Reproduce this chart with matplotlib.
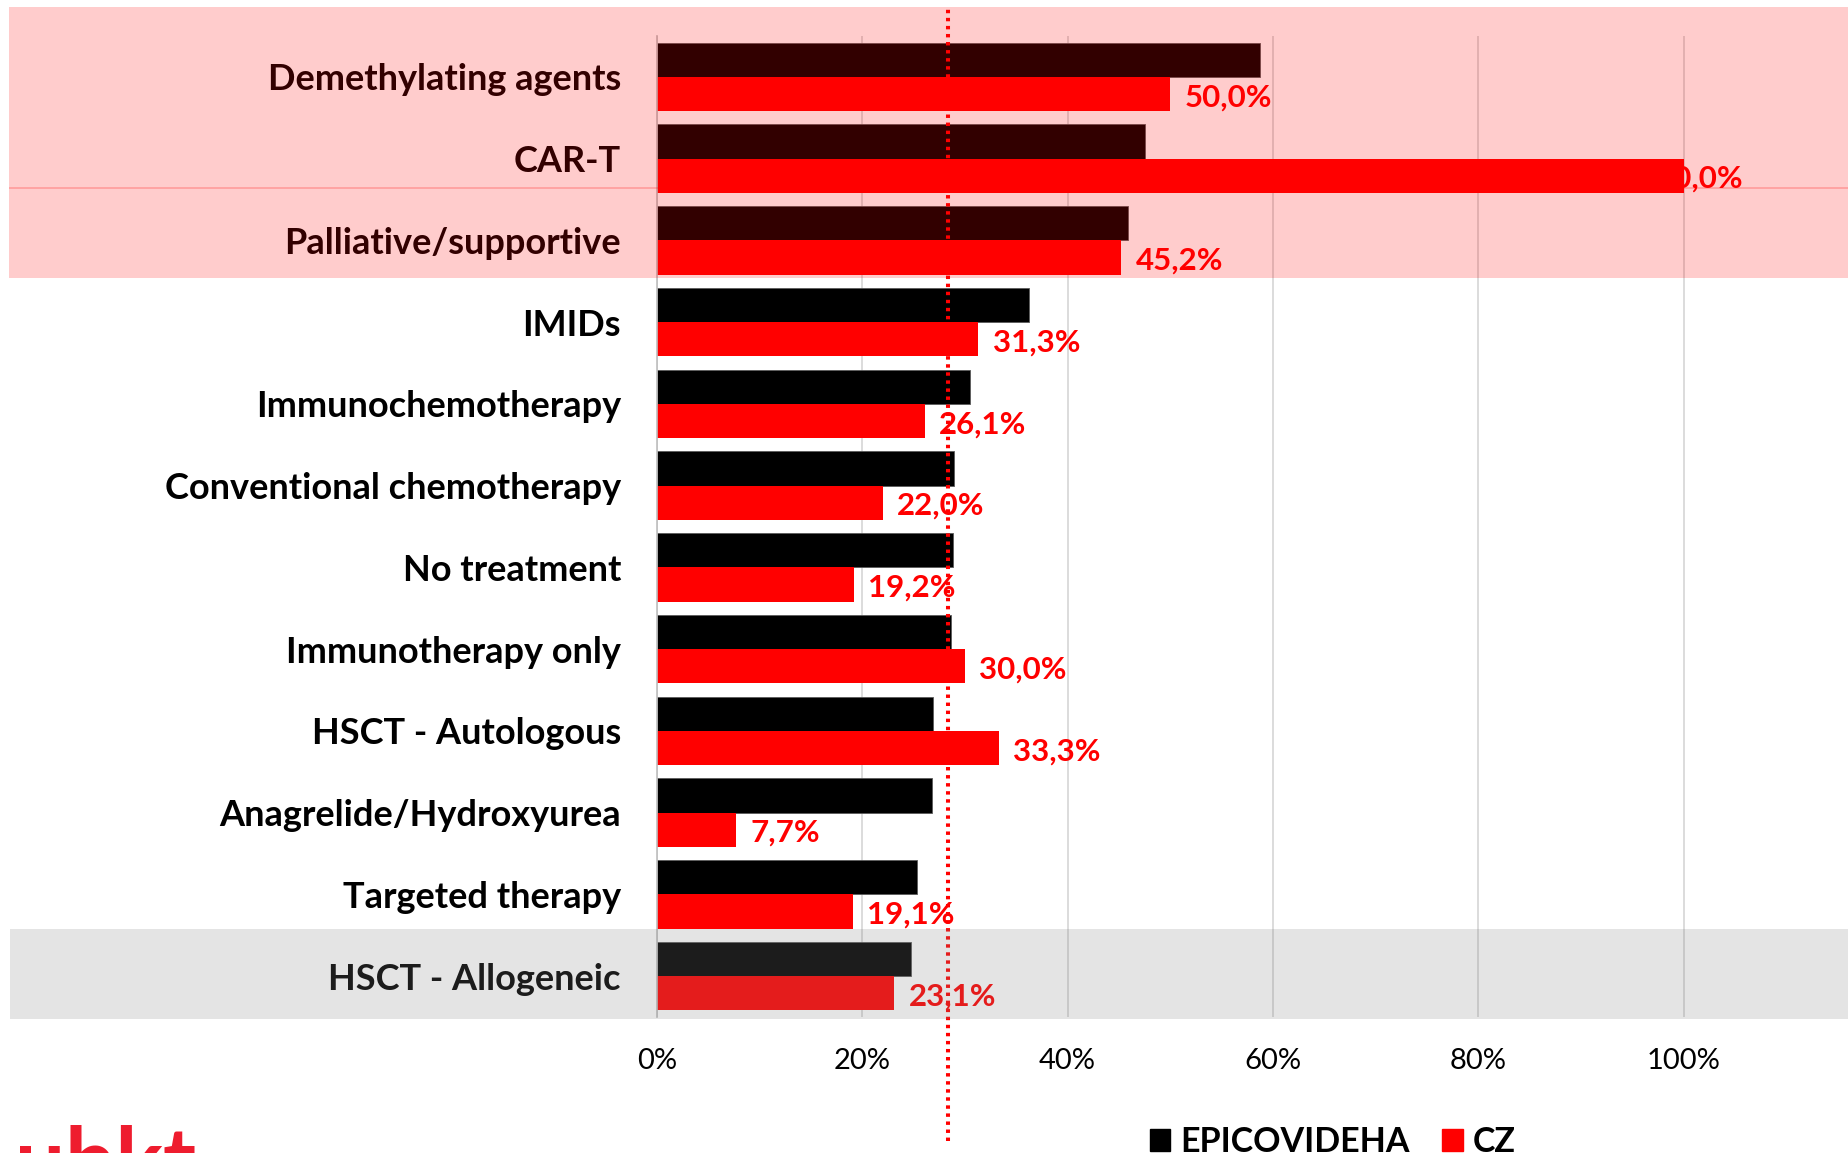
import numpy as np
import matplotlib
matplotlib.use("Agg")
import matplotlib.pyplot as plt
from matplotlib.patches import Rectangle, Patch

# Data (in %)
categories = ["Demethylating agents", "CAR-T", "Palliative/supportive", "IMIDs",
              "Immunochemotherapy", "Conventional chemotherapy", "No treatment",
              "Immunotherapy only", "HSCT - Autologous", "Anagrelide/Hydroxyurea",
              "Targeted therapy", "HSCT - Allogeneic"]
epicovideha = [58.7, 47.5, 45.9, 36.2, 30.5, 28.9, 28.8, 28.6, 26.9, 26.8, 25.3, 24.7]
cz = [50.0, 100.0, 45.2, 31.3, 26.1, 22.0, 19.2, 30.0, 33.3, 7.7, 19.1, 23.1]
xticks = [0, 20, 40, 60, 80, 100]
ref_line = 28.3   # dotted reference line
series_names = ["EPICOVIDEHA", "CZ"]

RED = "#FF0000"
W, H = 1849, 1153

plt.rcParams['font.family'] = ['Lato', 'DejaVu Sans']

fig = plt.figure(figsize=(W/100, H/100), dpi=100)
fig.patch.set_facecolor("white")

# plot area (runs past the right edge like the cropped original)
ax = fig.add_axes([657/W, 136/H, 1232/W, 981/H])

y = np.arange(len(categories))
bh = 0.42
ax.barh(y - bh/2, epicovideha, height=bh, color="black", edgecolor="#5a5a5a", linewidth=0.6, zorder=2)
ax.barh(y + bh/2, cz, height=bh, color=RED, zorder=2)

# value labels for CZ
for yi, v in zip(y, cz):
    if v > 95:
        # Excel pushes the label back inside the plot area
        ax.text(105.7, yi + bh/2 + 0.04, f"{v:.1f}%".replace(".", ","), color=RED,
                fontsize=22.5, fontweight="bold", va="center", ha="right", zorder=4)
    else:
        ax.text(v + 1.4, yi + bh/2 + 0.04, f"{v:.1f}%".replace(".", ","), color=RED,
                fontsize=22.5, fontweight="bold", va="center", ha="left", zorder=4)

# dotted reference line
ax.axvline(ref_line, ymin=-0.126, ymax=1.0275, color=RED, lw=2.9,
           linestyle=(0, (0.85, 1.15)), clip_on=False, zorder=3)

ax.set_xlim(0, 120)
ax.set_ylim(len(categories) - 0.5, -0.5)
ax.set_xticks(xticks)
ax.set_xticklabels([f"{t}%" for t in xticks])
ax.set_yticks(y)
ax.set_yticklabels(categories)
for t in ax.get_yticklabels():
    t.set_fontweight("bold")
ax.tick_params(axis="y", length=0, pad=26, labelsize=26)
ax.tick_params(axis="x", length=0, pad=22, labelsize=21)

ax.grid(axis="x", color="#D9D9D9", lw=1.3)
ax.set_axisbelow(True)
for s in ["top", "right", "bottom"]:
    ax.spines[s].set_visible(False)
ax.spines["left"].set_color("#BFBFBF")
ax.spines["left"].set_linewidth(1.2)

# highlight overlays (semi transparent, drawn on top like in the slide)
pink = (1, 0, 0, 0.2)
fig.add_artist(Rectangle((9/W, 1 - 189/H), 1, 182/H, transform=fig.transFigure,
                         facecolor=pink, edgecolor="none", zorder=3))
fig.add_artist(Rectangle((9/W, 1 - 278/H), 1, 91/H, transform=fig.transFigure,
                         facecolor=pink, edgecolor="none", zorder=3))
fig.add_artist(Rectangle((10/W, 1 - 1019/H), 1, 90/H, transform=fig.transFigure,
                         facecolor=(130/255, 130/255, 130/255, 0.216), edgecolor="none", zorder=3))

# legend
handles = [Patch(color="black", label=series_names[0]), Patch(color=RED, label=series_names[1])]
fig.legend(handles=handles, loc="center left", bbox_to_anchor=(1150/W, 11/H), ncol=2,
           frameon=False, prop={"family": "Lato", "weight": "bold", "size": 24.5},
           handlelength=0.6, handleheight=0.6, handletextpad=0.3, columnspacing=0.95,
           borderaxespad=0, borderpad=0)

# logo (cropped at the bottom edge)
fig.text(15/W, 1 - 1124/H, "ubkt", va="top", ha="left", fontsize=64,
         fontweight="bold", color="#EE1C2E")

fig.savefig("out.png", dpi=100)
